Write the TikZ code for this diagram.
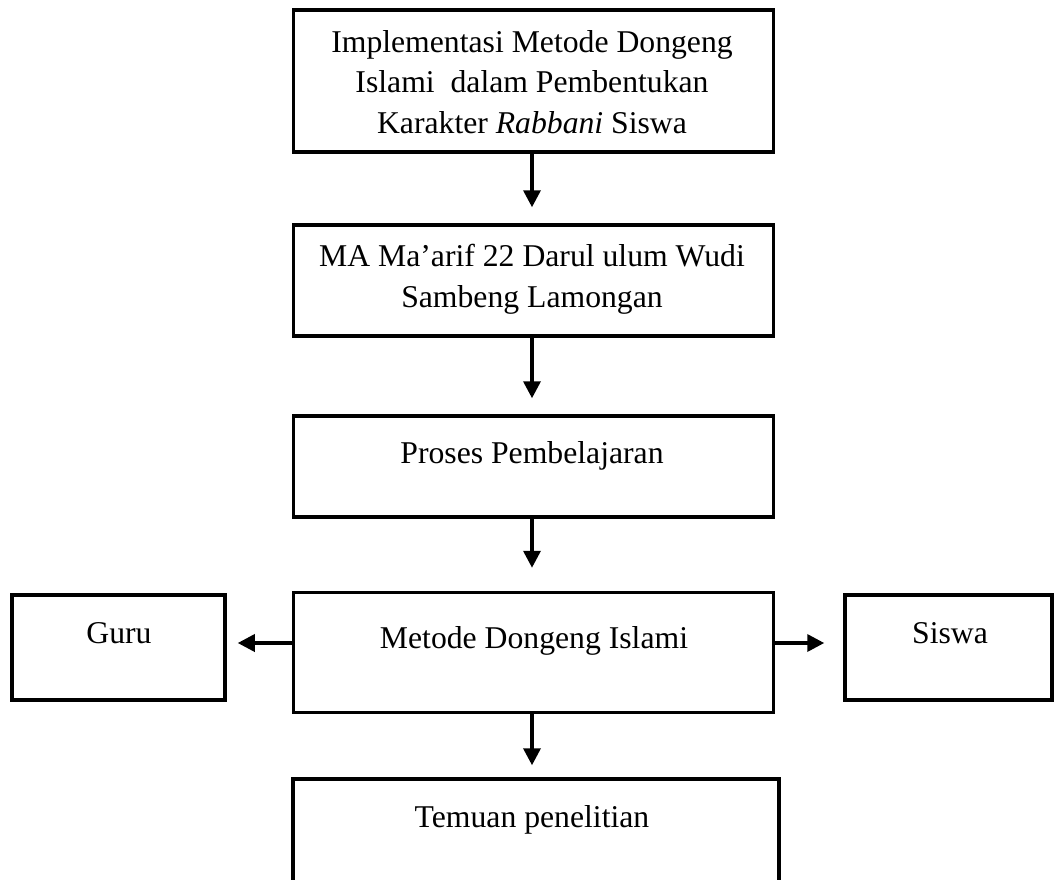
\documentclass[tikz,border=0pt]{standalone}
\usepackage{fontspec}
\setmainfont{Liberation Serif}
\usetikzlibrary{arrows.meta}
\begin{document}
\begin{tikzpicture}[x=1pt,y=-1pt,
  box/.style={draw=black, line width=3.5pt, rectangle, inner sep=0pt},
  txt/.style={font=\fontsize{31.7}{40.5}\selectfont, inner sep=0pt, anchor=base, align=center},
  arr/.style={line width=3.5pt, -{Triangle[length=17pt,width=17pt]}}]
\useasboundingbox (0,0) rectangle (1055,879);
\node[box, minimum width=480pt, minimum height=142pt] (b1) at (533.5,81) {};
\node[box, minimum width=480pt, minimum height=111pt] (b2) at (533.5,280.5) {};
\node[box, minimum width=480pt, minimum height=101pt] (b3) at (533.5,466.5) {};
\node[box, minimum width=480pt, minimum height=120pt] (b4) at (533.5,652.5) {};
\node[box, minimum width=213pt, minimum height=105pt] (guru) at (118.5,647.5) {};
\node[box, minimum width=207pt, minimum height=105pt] (siswa) at (948.5,647.5) {};
\node[box, minimum width=486pt, minimum height=131pt] (b5) at (536,844.5) {};
\node[txt] (t1) at (532,133) {Implementasi Metode Dongeng\\Islami\ \ dalam Pembentukan\\Karakter \textit{Rabbani} Siswa};
\node[txt] (t2) at (532,307) {MA Ma’arif 22 Darul ulum Wudi\\Sambeng Lamongan};
\node[txt] (t3) at (532,463) {Proses Pembelajaran};
\node[txt] (t4) at (534,648) {Metode Dongeng Islami};
\node[txt] (t5) at (532,827) {Temuan penelitian};
\node[txt] (tg) at (119,643) {Guru};
\node[txt] (ts) at (950,643) {Siswa};
\draw[arr, shorten >=16pt] (b1.south -| 532,0) -- (b2.north -| 532,0);
\draw[arr, shorten >=16pt] (b2.south -| 532,0) -- (b3.north -| 532,0);
\draw[arr, shorten >=23pt] (b3.south -| 532,0) -- (b4.north -| 532,0);
\draw[arr, shorten >=12pt] (b4.south -| 532,0) -- (b5.north -| 532,0);
\draw[arr, shorten >=11pt] (b4.west |- 0,643) -- (guru.east |- 0,643);
\draw[arr, shorten >=19pt] (b4.east |- 0,643) -- (siswa.west |- 0,643);
\end{tikzpicture}
\end{document}
